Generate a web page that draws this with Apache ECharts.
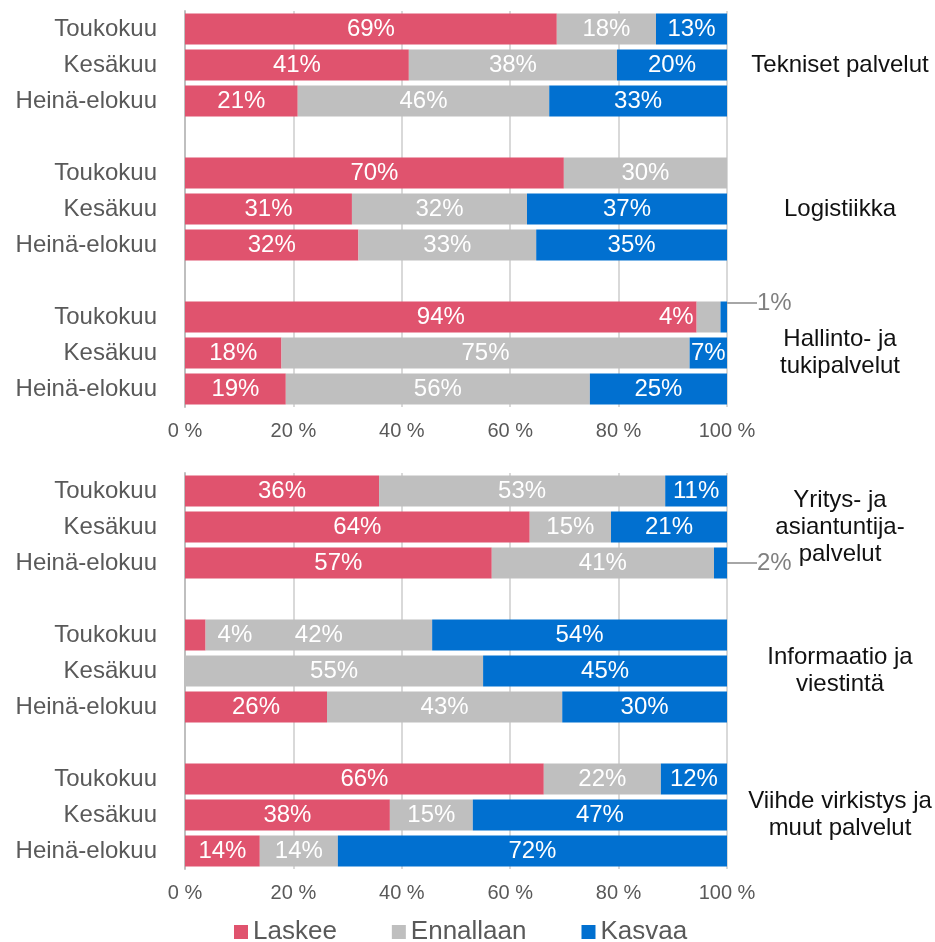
<!DOCTYPE html>
<html>
<head>
<meta charset="utf-8">
<script src="https://cdn.jsdelivr.net/npm/echarts@6/dist/echarts.min.js"></script>
<style>html,body{margin:0;padding:0;background:#fff}#c{width:935px;height:942px}</style>
</head>
<body>
<div id="c"></div>
<script>
const months = ['Toukokuu', 'Kesäkuu', 'Heinä-elokuu'];
const sectorsTop = ['Tekniset palvelut', 'Logistiikka', 'Hallinto- ja\ntukipalvelut'];
const sectorsBottom = ['Yritys- ja\nasiantuntija-\npalvelut', 'Informaatio ja\nviestintä', 'Viihde virkistys ja\nmuut palvelut'];
const seriesNames = ['Laskee', 'Ennallaan', 'Kasvaa'];
const xTicks = [0, 20, 40, 60, 80, 100];

// values per sector x month (Toukokuu, Kesäkuu, Heinä-elokuu), in %
const laskeeTop    = [68.6, 41.3, 20.8, 69.9, 30.8, 32.0, 94.4, 17.8, 18.6];
const ennallaanTop = [18.3, 38.4, 46.4, 30.1, 32.3, 32.8, 4.4, 75.3, 56.1];
const kasvaaTop    = [13.1, 20.3, 32.8, 0, 36.9, 35.2, 1.2, 6.9, 25.3];

const laskeeBottom    = [35.8, 63.6, 56.6, 3.8, 0, 26.2, 66.2, 37.8, 13.8];
const ennallaanBottom = [52.8, 15.0, 41.0, 41.8, 55.0, 43.4, 21.6, 15.3, 14.4];
const kasvaaBottom    = [11.4, 21.4, 2.4, 54.4, 45.0, 30.4, 12.2, 46.9, 71.8];

const COLORS = ['#E0536E', '#BFBFBF', '#0170D0'];
const FONT = 'Liberation Sans, Arial, sans-serif';

// 3 groups of 3 bars with one empty slot between groups
function toSlots(arr) {
  const out = [];
  for (let g = 0; g < 3; g++) {
    if (g > 0) out.push(null);
    for (let m = 0; m < 3; m++) out.push(arr[g * 3 + m]);
  }
  return out;
}
function slotIndex(i) { return i + Math.floor(i / 3); }
const slotKeys = toSlots([0,1,2,3,4,5,6,7,8]).map((v, i) => v === null ? 'gap' + i : 's' + i);
const monthLabels = toSlots([0,1,2,0,1,2,0,1,2]).map(v => v === null ? '' : months[v]);
function sectorSlots(secs) {
  return toSlots([0,1,2,3,4,5,6,7,8]).map((v, i) => (v !== null && v % 3 === 1) ? secs[Math.floor(v / 3)] : '');
}

// special label placements: [panel, series, index, type, dy]
const specials = [
  [0, 1, 6, 'left'],
  [0, 2, 6, 'outside', -14],
  [1, 2, 2, 'outside', 0],
  [1, 0, 3, 'right']
];

const baseLabel = {
  show: true, position: 'inside', color: '#fff', fontSize: 24, fontFamily: FONT,
  formatter: p => (p.value == null || p.value < 0.5) ? '' : Math.round(p.value) + '%'
};

function buildSeries(panel, arr, si) {
  const data = toSlots(arr).map(v => v);
  const outside = {};
  specials.forEach(s => {
    if (s[0] !== panel || s[1] !== si) return;
    const k = slotIndex(s[2]);
    const item = { value: data[k] };
    if (s[3] === 'left') item.label = { position: 'left', distance: 3 };
    if (s[3] === 'right') item.label = { position: 'right', distance: 12 };
    if (s[3] === 'outside') {
      item.label = { color: '#808080', padding: [0, 0, 0, 9] };
      item.labelLine = { show: true, lineStyle: { color: '#A6A6A6', width: 2 } };
      outside[k] = s[4];
    }
    data[k] = item;
  });
  return {
    name: seriesNames[si], type: 'bar', stack: 'p' + panel,
    xAxisIndex: panel, yAxisIndex: panel * 2,
    barWidth: 31, itemStyle: { color: COLORS[si] },
    label: baseLabel, data: data,
    labelLayout: function (p) {
      if (p.dataIndex in outside) {
        const rx = p.rect.x + p.rect.width;
        const cy = p.rect.y + p.rect.height / 2;
        return { x: rx + 21, y: cy + outside[p.dataIndex], align: 'left', verticalAlign: 'middle' };
      }
    }
  };
}

function xAxis(grid) {
  return {
    type: 'value', gridIndex: grid, min: xTicks[0], max: xTicks[xTicks.length - 1], interval: 20,
    axisLine: { show: false }, axisTick: { show: false },
    splitLine: { lineStyle: { color: '#D9D9D9', width: 2 } },
    axisLabel: { formatter: '{value} %', color: '#595959', fontSize: 20, fontFamily: FONT, margin: 14 }
  };
}
function yAxes(grid, secs) {
  return [{
    type: 'category', gridIndex: grid, inverse: true, data: slotKeys,
    axisTick: { show: false }, axisLine: { lineStyle: { color: '#BFBFBF', width: 2 } },
    axisLabel: { interval: 0, formatter: (v, i) => monthLabels[i], color: '#595959', fontSize: 24, fontFamily: FONT, margin: 28 }
  }, {
    type: 'category', gridIndex: grid, inverse: true, position: 'right', data: slotKeys,
    axisTick: { show: false }, axisLine: { show: false },
    axisLabel: { interval: 0, formatter: (v, i) => sectorSlots(secs)[i], color: '#111', fontSize: 24, fontFamily: FONT,
                 align: 'center', margin: 113, lineHeight: 27 }
  }];
}

const option = {
  animation: false,
  textStyle: { fontFamily: FONT },
  grid: [
    { left: 185, right: 208, top: 11, height: 396 },
    { left: 185, right: 208, top: 473, height: 396 }
  ],
  xAxis: [xAxis(0), xAxis(1)],
  yAxis: yAxes(0, sectorsTop).concat(yAxes(1, sectorsBottom)),
  legend: {
    data: seriesNames, left: 229, top: 914, itemWidth: 14, itemHeight: 14, itemGap: 55,
    icon: 'rect', textStyle: { color: '#595959', fontSize: 26, fontFamily: FONT }
  },
  series: [
    buildSeries(0, laskeeTop, 0), buildSeries(0, ennallaanTop, 1), buildSeries(0, kasvaaTop, 2),
    buildSeries(1, laskeeBottom, 0), buildSeries(1, ennallaanBottom, 1), buildSeries(1, kasvaaBottom, 2)
  ]
};
echarts.init(document.getElementById('c')).setOption(option);
</script>
</body>
</html>
